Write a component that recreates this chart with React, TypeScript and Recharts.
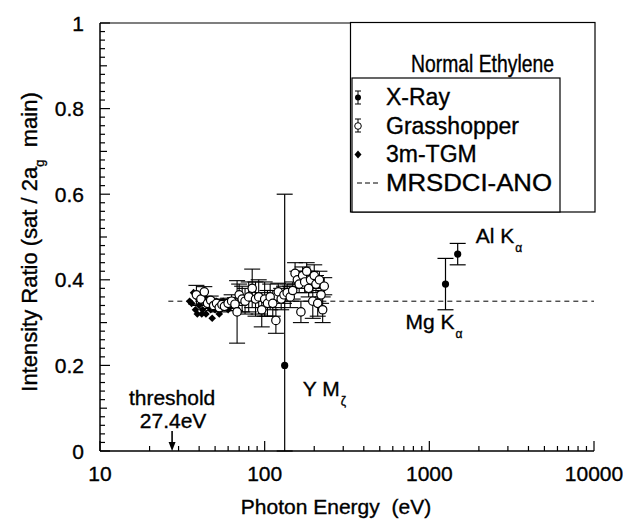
import React from "react"
import {
  ScatterChart,
  Scatter,
  XAxis,
  YAxis,
  ErrorBar,
  ReferenceLine,
  ReferenceDot,
} from "recharts"

const FONT = '"Liberation Sans", Arial, Helvetica, sans-serif'
// scanned original has slightly heavy glyphs
const INK = { fill: "#000", stroke: "#000", strokeWidth: 0.35 }

// axis ticks
const xDecades = [10, 100, 1000, 10000]
const xDecadeLabels = ["10", "100", "1000", "10000"]
const yMajor = [0, 0.2, 0.4, 0.6, 0.8, 1]
const yMajorLabels = ["0", "0.2", "0.4", "0.6", "0.8", "1"]

// X-Ray (Y Mζ, Mg Kα, Al Kα)
const xrayEnergy = [132.3, 1253.6, 1486.6]
const xrayRatio = [0.2, 0.39, 0.46]
const xrayErrLow = [0.2, 0.06, 0.025]
const xrayErrHigh = [0.4, 0.06, 0.025]

// Grasshopper
const grassEnergy = [
  38.5, 41, 43, 45, 47, 49, 51, 53, 55, 57, 60, 63, 66, 68, 70, 73, 76, 80, 84, 88,
  92, 96, 100, 104, 108, 112, 117, 121, 126, 131, 137, 143, 148, 153, 158, 162, 166,
  170, 175, 180, 185, 190, 196, 200, 205, 210, 215, 220, 225, 230,
]
const grassRatio = [
  0.365, 0.355, 0.372, 0.345, 0.352, 0.34, 0.345, 0.335, 0.342, 0.338, 0.345, 0.35,
  0.343, 0.325, 0.365, 0.355, 0.35, 0.36, 0.38, 0.355, 0.36, 0.33, 0.355, 0.345, 0.36,
  0.345, 0.305, 0.372, 0.355, 0.365, 0.37, 0.36, 0.375, 0.415, 0.4, 0.39, 0.325, 0.41,
  0.395, 0.42, 0.38, 0.4, 0.35, 0.41, 0.39, 0.345, 0.4, 0.365, 0.33, 0.385,
]
const grassErr = [
  0.022, 0.015, 0.012, 0.012, 0.01, 0.012, 0.01, 0.01, 0.012, 0.01, 0.012, 0.015,
  0.015, 0.073, 0.025, 0.03, 0.03, 0.035, 0.045, 0.04, 0.04, 0.04, 0.04, 0.03, 0.03,
  0.03, 0.03, 0.02, 0.025, 0.02, 0.02, 0.025, 0.02, 0.025, 0.02, 0.02, 0.025, 0.02,
  0.025, 0.02, 0.02, 0.02, 0.04, 0.025, 0.02, 0.03, 0.02, 0.02, 0.03, 0.02,
]

// 3m-TGM
const tgmEnergy = [
  35, 36, 37, 38, 38.5, 39, 40, 41, 41.5, 42, 43, 44, 45, 46, 47, 48, 49, 50, 51, 52,
  53, 54, 55, 56, 58, 60, 62, 64, 66,
]
const tgmRatio = [
  0.35, 0.345, 0.37, 0.33, 0.36, 0.32, 0.34, 0.35, 0.32, 0.33, 0.36, 0.32, 0.34, 0.35,
  0.33, 0.31, 0.34, 0.33, 0.35, 0.34, 0.32, 0.33, 0.335, 0.35, 0.34, 0.33, 0.34, 0.35,
  0.34,
]

// MRSDCI-ANO
const theoryEnergy = [26, 10000]
const theoryRatio = [0.35, 0.35]

const xrayData = xrayEnergy.map((x, i) => ({ x, y: xrayRatio[i], err: [xrayErrLow[i], xrayErrHigh[i]] }))
const grassData = grassEnergy.map((x, i) => ({ x, y: grassRatio[i], err: grassErr[i] }))
const tgmData = tgmEnergy.map((x, i) => ({ x, y: tgmRatio[i] }))
const theoryData = theoryEnergy.map((x, i) => ({ x, y: theoryRatio[i] }))

const xTicks: number[] = []
for (const d of [10, 100, 1000]) for (let k = 1; k < 10; k++) xTicks.push(k * d)
xTicks.push(10000)
const yTicks: number[] = []
for (let k = 0; k <= 50; k++) yTicks.push(k / 50)

const XTick = (props: any) => {
  const { x, y, payload } = props
  const i = xDecades.indexOf(Math.round(payload.value))
  return (
    <g>
      <line x1={x} x2={x} y1={y} y2={y - (i >= 0 ? 10 : 5)} stroke="#000" strokeWidth={1.2} />
      {i >= 0 && (
        <text x={x} y={y + 30} textAnchor="middle" fontSize={21} fontFamily={FONT} {...INK}>
          {xDecadeLabels[i]}
        </text>
      )}
    </g>
  )
}

const YTick = (props: any) => {
  const { x, y, payload } = props
  const k = Math.round(payload.value * 50)
  const i = yMajor.findIndex((v) => Math.round(v * 50) === k)
  const len = i >= 0 ? 10 : k % 5 === 0 ? 7 : 5
  return (
    <g>
      <line x1={x} x2={x + len} y1={y} y2={y} stroke="#000" strokeWidth={1.2} />
      {i >= 0 && (
        <text x={x - 16} y={y + 7.5} textAnchor="end" fontSize={21} fontFamily={FONT} {...INK}>
          {yMajorLabels[i]}
        </text>
      )}
    </g>
  )
}

const dot = (props: any) => <circle cx={props.cx} cy={props.cy} r={3.6} fill="#000" />
const ring = (props: any) => (
  <circle cx={props.cx} cy={props.cy} r={4.2} fill="#fff" stroke="#000" strokeWidth={1.2} />
)
const diamond = (props: any) => {
  const { cx, cy } = props
  const s = 3.8
  return <polygon points={`${cx},${cy - s} ${cx + s},${cy} ${cx},${cy + s} ${cx - s},${cy}`} fill="#000" />
}
const none = () => <g />

const Threshold = (props: any) => {
  const { cx, cy } = props
  return (
    <g fontFamily={FONT}>
      <text x={cx} y={cy - 46} textAnchor="middle" fontSize={21} {...INK}>threshold</text>
      <text x={cx + 1} y={cy - 23} textAnchor="middle" fontSize={21} {...INK}>27.4eV</text>
      <line x1={cx} x2={cx} y1={cy - 20} y2={cy - 6} stroke="#000" strokeWidth={1.6} />
      <polygon points={`${cx - 3.5},${cy - 9} ${cx + 3.5},${cy - 9} ${cx},${cy}`} fill="#000" />
    </g>
  )
}

const labelWithSub = (main: string, sub: string, dx: number, dy: number) => (props: any) => {
  const { cx, cy } = props
  return (
    <text x={cx + dx} y={cy + dy} fontSize={21} fontFamily={FONT} {...INK}>
      {main}
      <tspan fontSize={12} dy={9} dx={1}>{sub}</tspan>
    </text>
  )
}

const Legend = () => (
  <svg width={623} height={521} style={{ position: "absolute", left: 0, top: 0, pointerEvents: "none" }}>
    <g fontFamily={FONT}>
      <rect x={350.5} y={22.5} width={244.5} height={189.5} fill="#fff" stroke="#000" strokeWidth={1.2} />
      <rect x={352} y={78} width={208} height={134} fill="#fff" stroke="#000" strokeWidth={1.2} />
      <text x={411} y={72} fontSize={23.5} textLength={143} lengthAdjust="spacingAndGlyphs" {...INK}>
        Normal Ethylene
      </text>
      {/* X-Ray */}
      <line x1={358} x2={358} y1={91} y2={104} stroke="#000" strokeWidth={1} />
      <line x1={355} x2={361} y1={91} y2={91} stroke="#000" strokeWidth={1} />
      <line x1={355} x2={361} y1={104} y2={104} stroke="#000" strokeWidth={1} />
      <circle cx={358} cy={97.5} r={3} fill="#000" />
      <text x={386} y={105} fontSize={23} {...INK}>X-Ray</text>
      {/* Grasshopper */}
      <line x1={358} x2={358} y1={119} y2={132} stroke="#000" strokeWidth={1} />
      <line x1={355} x2={361} y1={119} y2={119} stroke="#000" strokeWidth={1} />
      <line x1={355} x2={361} y1={132} y2={132} stroke="#000" strokeWidth={1} />
      <circle cx={358} cy={126} r={3.3} fill="#fff" stroke="#000" strokeWidth={1} />
      <text x={386} y={133.5} fontSize={23} {...INK}>Grasshopper</text>
      {/* 3m-TGM */}
      <polygon points="358,150.5 361.5,154.5 358,158.5 354.5,154.5" fill="#000" />
      <text x={386} y={162} fontSize={23} {...INK}>3m-TGM</text>
      {/* MRSDCI-ANO */}
      <line x1={357} x2={381} y1={183} y2={183} stroke="#000" strokeWidth={1} strokeDasharray="5 3" />
      <text x={386} y={190.5} fontSize={23} textLength={166} lengthAdjust="spacingAndGlyphs" {...INK}>
        MRSDCI-ANO
      </text>
    </g>
  </svg>
)

export default function App() {
  return (
    <div style={{ position: "absolute", left: 0, top: 0, width: 623, height: 521, background: "#fff", fontFamily: FONT }}>
      <ScatterChart width={623} height={521} margin={{ top: 23, right: 29, bottom: 69, left: 99 }}>
        <XAxis
          type="number"
          dataKey="x"
          scale="log"
          domain={[10, 10000]}
          allowDataOverflow
          ticks={xTicks}
          interval={0}
          tickSize={0}
          tickMargin={0}
          height={1}
          tick={<XTick />}
          axisLine={{ stroke: "#000", strokeWidth: 1.5 }}
        />
        <YAxis
          type="number"
          dataKey="y"
          domain={[0, 1]}
          allowDataOverflow
          ticks={yTicks}
          interval={0}
          tickSize={0}
          tickMargin={0}
          width={1}
          tick={<YTick />}
          axisLine={{ stroke: "#000", strokeWidth: 1.5 }}
        />
        <ReferenceLine y={1} stroke="#000" strokeWidth={1.2} />
        <Scatter
          data={theoryData}
          line={{ stroke: "#000", strokeWidth: 1, strokeDasharray: "5 4" }}
          shape={none}
          isAnimationActive={false}
        />
        <Scatter data={tgmData} shape={diamond} isAnimationActive={false} />
        <Scatter data={grassData} shape={ring} isAnimationActive={false}>
          <ErrorBar dataKey="err" direction="y" width={8} stroke="#000" strokeWidth={1.1} />
        </Scatter>
        <Scatter data={xrayData} shape={dot} isAnimationActive={false}>
          <ErrorBar dataKey="err" direction="y" width={8} stroke="#000" strokeWidth={1.2} />
        </Scatter>
        <ReferenceDot x={27.4} y={0} ifOverflow="visible" shape={Threshold} />
        <ReferenceDot x={xrayEnergy[0]} y={xrayRatio[0]} ifOverflow="visible" shape={labelWithSub("Y M", "ζ", 18, 31)} />
        <ReferenceDot x={xrayEnergy[1]} y={xrayRatio[1]} ifOverflow="visible" shape={labelWithSub("Mg K", "α", -40, 45)} />
        <ReferenceDot x={xrayEnergy[2]} y={xrayRatio[2]} ifOverflow="visible" shape={labelWithSub("Al K", "α", 18, -11)} />
        <text x={336} y={514} textAnchor="middle" fontSize={21} fontFamily={FONT} {...INK}>
          {"Photon Energy\u00a0\u00a0(eV)"}
        </text>
        <text
          transform="translate(37,242) rotate(-90)"
          textAnchor="middle"
          fontSize={22}
          fontFamily={FONT}
          {...INK}
        >
          Intensity Ratio (sat / 2a
          <tspan fontSize={13} dy={7}>g</tspan>
          <tspan dy={-7}>{"\u00a0\u00a0main)"}</tspan>
        </text>
      </ScatterChart>
      <Legend />
    </div>
  )
}
